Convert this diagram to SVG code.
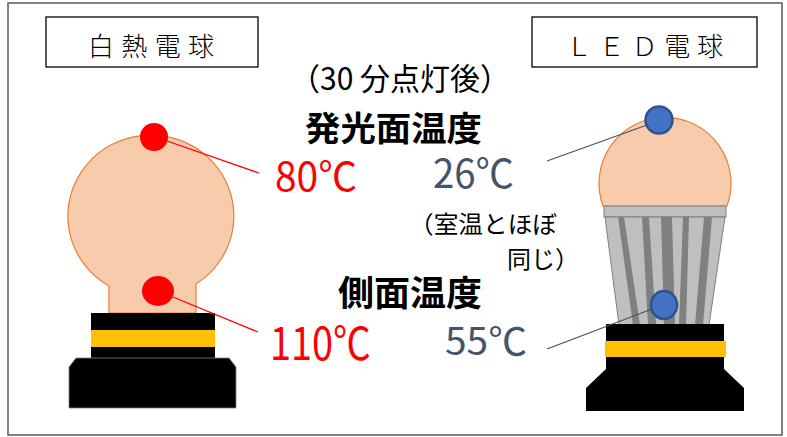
<svg xmlns="http://www.w3.org/2000/svg" width="787" height="437" viewBox="0 0 787 437">
<style>
.jp{font-family:"Noto Sans CJK JP","Noto Sans",sans-serif;}
.bulb{fill:#F8CBAD;stroke:#ED7D31;stroke-width:1.2;}
.base{fill:#000;}
.band{fill:#FFC000;}
.sink{fill:#BFBFBF;stroke:#7F7F7F;stroke-width:1;}
.rib{fill:#808080;}
.rdot{fill:#FF0000;}
.bdot{fill:#4472C4;stroke:#2F528F;stroke-width:2.5;}
.red{fill:#FF0000;}
.slate{fill:#44546A;}
.lbl{fill:#fff;stroke:#000;stroke-width:1.3;}
</style>
<rect x="0" y="0" width="787" height="437" fill="#fff"/>
<rect x="8" y="3" width="774" height="432" fill="none" stroke="#595959" stroke-width="1.5"/>

<g id="label-incandescent">
<rect class="lbl" x="46" y="17" width="212" height="50"/>
<text class="jp" x="88" y="56" font-size="26" font-weight="300" textLength="126" lengthAdjust="spacing">白熱電球</text>
</g>
<g id="label-led">
<rect class="lbl" x="532" y="17" width="225" height="50"/>
<text x="566" y="56" font-size="26" font-weight="300" font-family="'Liberation Serif','Noto Sans CJK JP',serif" textLength="157" lengthAdjust="spacing">ＬＥＤ電球</text>
</g>

<g id="incandescent-bulb">
<path class="bulb" d="M109,313 L109,286 A83,81 0 1 1 196,284 L196,313 Z"/>
<rect class="base" x="91" y="313" width="124" height="46"/>
<rect class="band" x="91" y="330" width="124" height="17"/>
<polygon class="base" points="76,358 229,358 236,367 236,408 69,408 69,367" stroke="#7F7F7F" stroke-width="0.8"/>
<circle id="dot-inc-top" class="rdot" cx="154" cy="137" r="14"/>
<ellipse id="dot-inc-side" class="rdot" cx="158" cy="291" rx="16" ry="15"/>
</g>

<g id="led-bulb">
<path class="bulb" d="M603,206 A66,66 0 1 1 727,206 Z"/>
<rect class="sink" x="604" y="206" width="122" height="11"/>
<polygon class="sink" points="605,217 725,217 709,325 619,325"/>
<polygon class="rib" points="618,217 624,217 640,325 633,325"/>
<polygon class="rib" points="642,217 649,217 656,325 648,325"/>
<polygon class="rib" points="661,217 672,217 675,325 664,325"/>
<polygon class="rib" points="683,217 689,217 686,325 679,325"/>
<polygon class="rib" points="704,217 712,217 703,325 695,325"/>
<polygon class="base" points="606,324 724,324 724,369 744,388 744,411 586,411 586,388 606,369"/>
<rect class="band" x="605" y="341" width="121" height="16"/>
<circle id="dot-led-top" class="bdot" cx="659" cy="120" r="13.5"/>
<ellipse id="dot-led-side" class="bdot" cx="664" cy="305" rx="13" ry="14"/>
</g>

<g id="connectors" stroke-width="1.3" fill="none">
<line x1="167" y1="141" x2="259" y2="173" stroke="#FF0000"/>
<line x1="173" y1="297" x2="258" y2="332" stroke="#FF0000"/>
<line x1="547" y1="161" x2="647" y2="125" stroke="#44546A"/>
<line x1="547" y1="349" x2="652" y2="309" stroke="#44546A"/>
</g>

<g id="titles">
<text class="jp" x="290" y="90" font-size="31" textLength="220" lengthAdjust="spacingAndGlyphs">（30 分点灯後）</text>
<text class="jp" x="305" y="141" font-size="34" font-weight="bold" textLength="177" lengthAdjust="spacingAndGlyphs">発光面温度</text>
<text class="jp" x="338" y="306" font-size="35" font-weight="bold" textLength="144" lengthAdjust="spacingAndGlyphs">側面温度</text>
<text class="jp" x="409" y="233" font-size="24" textLength="148" lengthAdjust="spacingAndGlyphs">（室温とほぼ</text>
<text class="jp" x="507" y="268" font-size="24" textLength="72" lengthAdjust="spacingAndGlyphs">同じ）</text>
</g>

<g id="values">
<text class="jp red" x="275" y="191" font-size="40" textLength="82" lengthAdjust="spacingAndGlyphs">80℃</text>
<text class="jp slate" x="433" y="188" font-size="40" textLength="81" lengthAdjust="spacingAndGlyphs">26℃</text>
<text class="jp red" x="270" y="360" font-size="45" textLength="101" lengthAdjust="spacingAndGlyphs">110℃</text>
<text class="jp slate" x="445" y="355" font-size="38" textLength="82" lengthAdjust="spacingAndGlyphs">55℃</text>
</g>
</svg>
